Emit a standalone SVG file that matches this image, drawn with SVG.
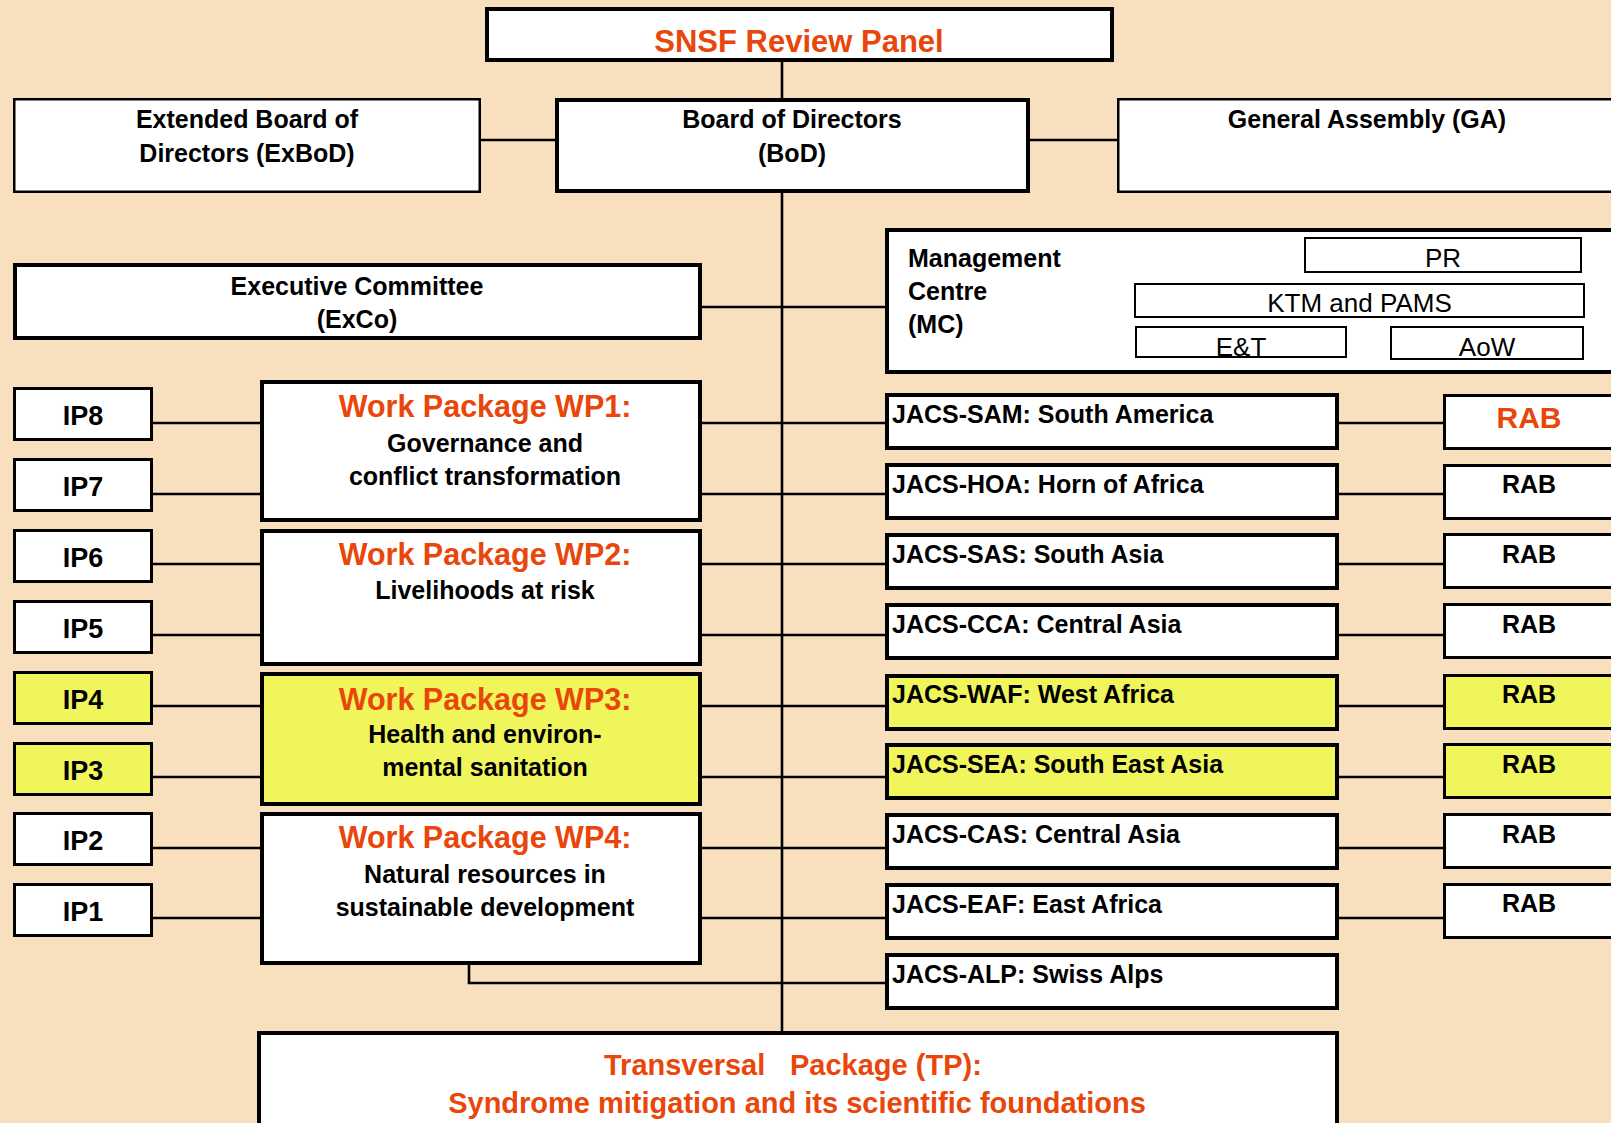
<svg xmlns="http://www.w3.org/2000/svg" width="1611" height="1123" viewBox="0 0 1611 1123">
<style>
.bx{fill:#ffffff;stroke:#000;}
.y{fill:#F0F55C;}
.t{font-family:"Liberation Sans",Arial,sans-serif;font-weight:bold;font-size:25px;fill:#000;}
.c{text-anchor:middle;}
.o{fill:#E8460A;}
.big{font-size:30.5px;}
.ip{font-size:27px;}
.reg{font-weight:normal;font-size:26px;}
.ln{stroke:#000;stroke-width:2.6;fill:none;}
</style>
<rect width="1611" height="1123" fill="#F8E0BE"/>
<g id="connectors">
<path class="ln" d="M782 60V100M782 191V1033"/>
<path class="ln" d="M480 140H557M1028 140H1119M700 307H887"/>
<path class="ln" d="M152 423H262M152 494H262M152 564H262M152 635H262M152 706H262M152 777H262M152 848H262M152 918H262"/>
<path class="ln" d="M700 423H887M700 494H887M700 564H887M700 635H887M700 706H887M700 777H887M700 848H887M700 918H887"/>
<path class="ln" d="M1337 423H1445M1337 494H1445M1337 564H1445M1337 635H1445M1337 706H1445M1337 777H1445M1337 848H1445M1337 918H1445"/>
<path class="ln" d="M469 963V983H887"/>
</g>
<g id="snsf"><rect class="bx" x="487" y="9" width="625" height="51" stroke-width="4"/><text class="t c o" x="799" y="52" style="font-size:31px">SNSF Review Panel</text></g>
<g id="exbod"><rect class="bx" x="14.25" y="99.25" width="465.5" height="92.5" stroke-width="2.5"/><text class="t c" x="247" y="128">Extended Board of</text><text class="t c" x="247" y="162">Directors (ExBoD)</text></g>
<g id="bod"><rect class="bx" x="557" y="100" width="471" height="91" stroke-width="4"/><text class="t c" x="792" y="128">Board of Directors</text><text class="t c" x="792" y="162">(BoD)</text></g>
<g id="ga"><rect class="bx" x="1118.25" y="99.25" width="510" height="92.5" stroke-width="2.5"/><text class="t c" x="1367" y="128">General Assembly (GA)</text></g>
<g id="exco"><rect class="bx" x="15" y="265" width="685" height="73" stroke-width="4"/><text class="t c" x="357" y="295">Executive Committee</text><text class="t c" x="357" y="328">(ExCo)</text></g>
<g id="mc"><rect class="bx" x="887" y="230" width="740" height="142" stroke-width="4"/>
<text class="t" x="908" y="267">Management</text><text class="t" x="908" y="300">Centre</text><text class="t" x="908" y="333">(MC)</text>
<rect class="bx" x="1305" y="238" width="276" height="34" stroke-width="2"/><text class="t c reg" x="1443" y="267">PR</text>
<rect class="bx" x="1135" y="284" width="449" height="33" stroke-width="2"/><text class="t c reg" x="1359.5" y="312">KTM and PAMS</text>
<rect class="bx" x="1136" y="327" width="210" height="30" stroke-width="2"/><text class="t c reg" x="1241" y="356">E&amp;T</text>
<rect class="bx" x="1391" y="327" width="192" height="32" stroke-width="2"/><text class="t c reg" x="1487" y="356">AoW</text>
</g>
<g id="ip8"><rect class="bx" x="14.5" y="388.5" width="137" height="51" stroke-width="3"/><text class="t c ip" x="83" y="425">IP8</text></g>
<g id="ip7"><rect class="bx" x="14.5" y="459.5" width="137" height="51" stroke-width="3"/><text class="t c ip" x="83" y="496">IP7</text></g>
<g id="ip6"><rect class="bx" x="14.5" y="530.5" width="137" height="51" stroke-width="3"/><text class="t c ip" x="83" y="567">IP6</text></g>
<g id="ip5"><rect class="bx" x="14.5" y="601.5" width="137" height="51" stroke-width="3"/><text class="t c ip" x="83" y="638">IP5</text></g>
<g id="ip4"><rect class="bx y" x="14.5" y="672.5" width="137" height="51" stroke-width="3"/><text class="t c ip" x="83" y="709">IP4</text></g>
<g id="ip3"><rect class="bx y" x="14.5" y="743.5" width="137" height="51" stroke-width="3"/><text class="t c ip" x="83" y="780">IP3</text></g>
<g id="ip2"><rect class="bx" x="14.5" y="813.5" width="137" height="51" stroke-width="3"/><text class="t c ip" x="83" y="850">IP2</text></g>
<g id="ip1"><rect class="bx" x="14.5" y="884.5" width="137" height="51" stroke-width="3"/><text class="t c ip" x="83" y="921">IP1</text></g>
<g id="wp1"><rect class="bx" x="262" y="382" width="438" height="138" stroke-width="4"/><text class="t c o big" x="485" y="417">Work Package WP1:</text><text class="t c" x="485" y="452">Governance and</text><text class="t c" x="485" y="485">conflict transformation</text></g>
<g id="wp2"><rect class="bx" x="262" y="531" width="438" height="133" stroke-width="4"/><text class="t c o big" x="485" y="565">Work Package WP2:</text><text class="t c" x="485" y="599">Livelihoods at risk</text></g>
<g id="wp3"><rect class="bx y" x="262" y="674" width="438" height="130" stroke-width="4"/><text class="t c o big" x="485" y="710">Work Package WP3:</text><text class="t c" x="485" y="743">Health and environ-</text><text class="t c" x="485" y="776">mental sanitation</text></g>
<g id="wp4"><rect class="bx" x="262" y="814" width="438" height="149" stroke-width="4"/><text class="t c o big" x="485" y="848">Work Package WP4:</text><text class="t c" x="485" y="883">Natural resources in</text><text class="t c" x="485" y="916">sustainable development</text></g>
<g id="jacs-sam"><rect class="bx" x="887" y="395" width="450" height="53" stroke-width="4"/><text class="t" x="892" y="423">JACS-SAM: South America</text></g>
<g id="jacs-hoa"><rect class="bx" x="887" y="465" width="450" height="53" stroke-width="4"/><text class="t" x="892" y="493">JACS-HOA: Horn of Africa</text></g>
<g id="jacs-sas"><rect class="bx" x="887" y="535" width="450" height="53" stroke-width="4"/><text class="t" x="892" y="563">JACS-SAS: South Asia</text></g>
<g id="jacs-cca"><rect class="bx" x="887" y="605" width="450" height="53" stroke-width="4"/><text class="t" x="892" y="633">JACS-CCA: Central Asia</text></g>
<g id="jacs-waf"><rect class="bx y" x="887" y="676" width="450" height="53" stroke-width="4"/><text class="t" x="892" y="703">JACS-WAF: West Africa</text></g>
<g id="jacs-sea"><rect class="bx y" x="887" y="745" width="450" height="53" stroke-width="4"/><text class="t" x="892" y="773">JACS-SEA: South East Asia</text></g>
<g id="jacs-cas"><rect class="bx" x="887" y="815" width="450" height="53" stroke-width="4"/><text class="t" x="892" y="843">JACS-CAS: Central Asia</text></g>
<g id="jacs-eaf"><rect class="bx" x="887" y="885" width="450" height="53" stroke-width="4"/><text class="t" x="892" y="913">JACS-EAF: East Africa</text></g>
<g id="jacs-alp"><rect class="bx" x="887" y="955" width="450" height="53" stroke-width="4"/><text class="t" x="892" y="983">JACS-ALP: Swiss Alps</text></g>
<g id="rab-sam"><rect class="bx" x="1444.5" y="395.5" width="200" height="53" stroke-width="3"/><text class="t c o" x="1529" y="428" style="font-size:30px">RAB</text></g>
<g id="rab-hoa"><rect class="bx" x="1444.5" y="465.5" width="200" height="53" stroke-width="3"/><text class="t c" x="1529" y="493">RAB</text></g>
<g id="rab-sas"><rect class="bx" x="1444.5" y="534.5" width="200" height="53" stroke-width="3"/><text class="t c" x="1529" y="563">RAB</text></g>
<g id="rab-cca"><rect class="bx" x="1444.5" y="604.5" width="200" height="53" stroke-width="3"/><text class="t c" x="1529" y="633">RAB</text></g>
<g id="rab-waf"><rect class="bx y" x="1444.5" y="675.5" width="200" height="53" stroke-width="3"/><text class="t c" x="1529" y="703">RAB</text></g>
<g id="rab-sea"><rect class="bx y" x="1444.5" y="744.5" width="200" height="53" stroke-width="3"/><text class="t c" x="1529" y="773">RAB</text></g>
<g id="rab-cas"><rect class="bx" x="1444.5" y="814.5" width="200" height="53" stroke-width="3"/><text class="t c" x="1529" y="843">RAB</text></g>
<g id="rab-eaf"><rect class="bx" x="1444.5" y="884.5" width="200" height="53" stroke-width="3"/><text class="t c" x="1529" y="912">RAB</text></g>
<g id="tp"><rect class="bx" x="259" y="1033" width="1078" height="100" stroke-width="4"/><text class="t o" x="604" y="1075" style="font-size:29px" xml:space="preserve">Transversal  <tspan x="790">Package (TP):</tspan></text><text class="t c o" x="797" y="1113" style="font-size:29px">Syndrome mitigation and its scientific foundations</text></g>
</svg>
